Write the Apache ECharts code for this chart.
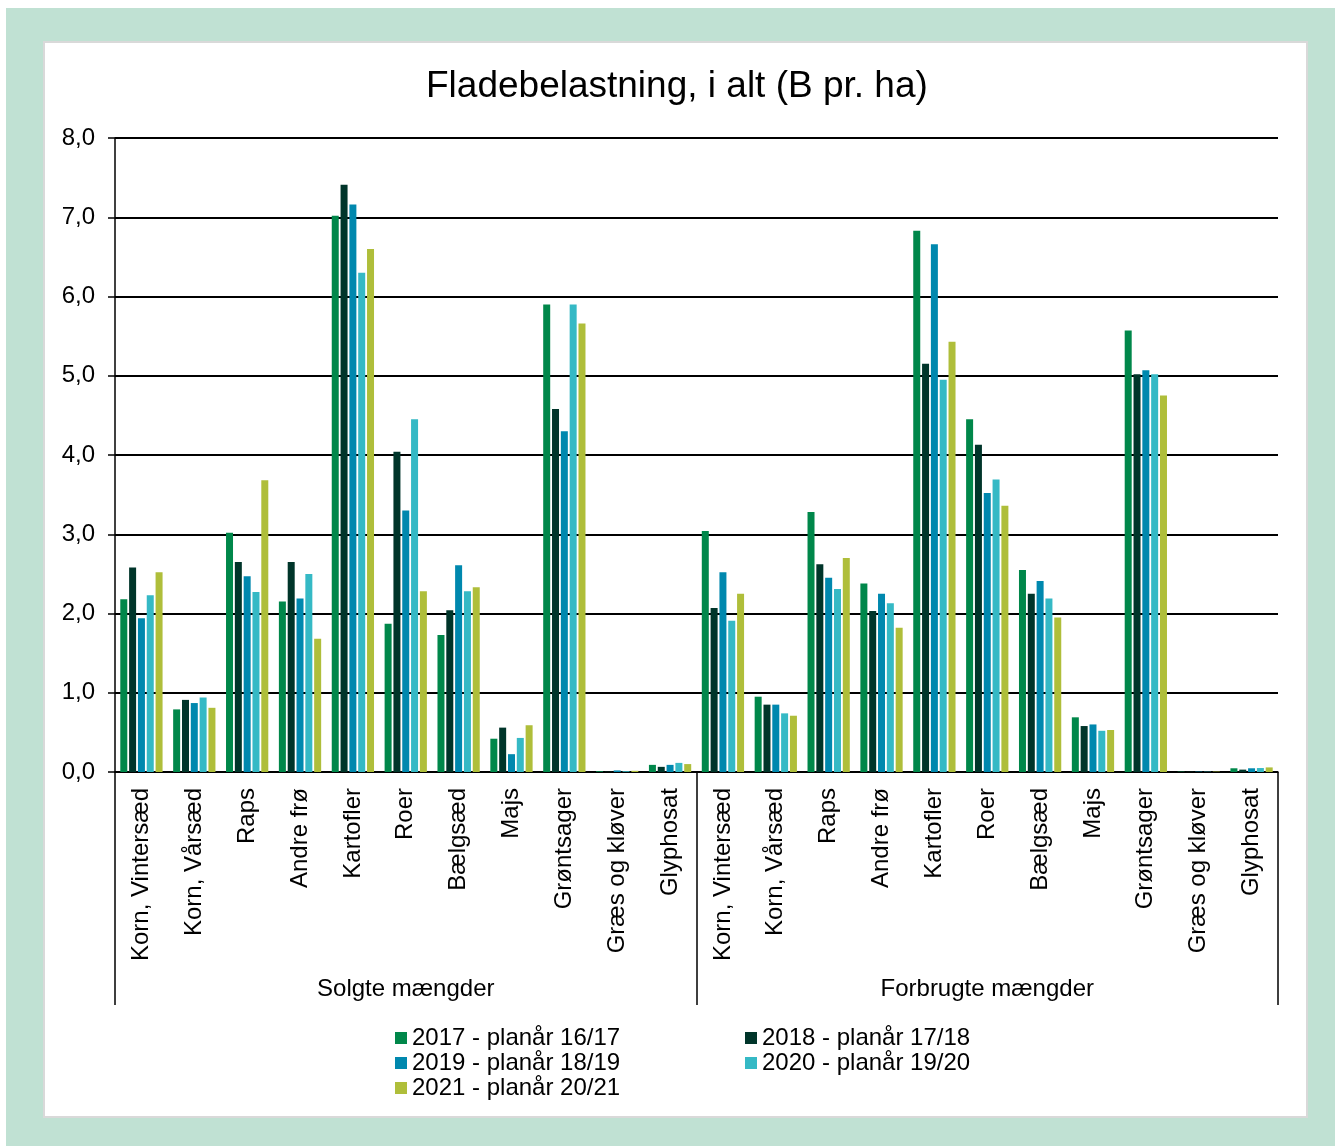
<!DOCTYPE html>
<html>
<head>
<meta charset="utf-8">
<script src="https://cdn.jsdelivr.net/npm/echarts@6/dist/echarts.min.js"></script>
<style>
  html, body { margin: 0; padding: 0; background: #ffffff; }
  #bg { position: absolute; left: 6px; top: 8px; width: 1329px; height: 1138px; background: #c0e1d3; }
  #panel { position: absolute; left: 43px; top: 41px; width: 1261px; height: 1073px; background: #ffffff; border: 2px solid #d9d9d9; }
  #chart { position: absolute; left: 0; top: 0; width: 1335px; height: 1146px; }
</style>
</head>
<body>
<div id="bg"></div>
<div id="panel"></div>
<div id="chart"></div>
<script>
const crops = ['Korn, Vintersæd', 'Korn, Vårsæd', 'Raps', 'Andre frø', 'Kartofler', 'Roer', 'Bælgsæd', 'Majs', 'Grøntsager', 'Græs og kløver', 'Glyphosat'];
const groups = ['Solgte mængder', 'Forbrugte mængder'];
const seriesNames = ['2017 - planår 16/17', '2018 - planår 17/18', '2019 - planår 18/19', '2020 - planår 19/20', '2021 - planår 20/21'];
const colors = ['#00874a', '#00352a', '#0088ae', '#35b9c5', '#afbe3a'];
const yTicks = [0, 1, 2, 3, 4, 5, 6, 7, 8];

// values: first 11 = Solgte mængder, last 11 = Forbrugte mængder
const v2017 = [2.18, 0.79, 3.02, 2.15, 7.02, 1.87, 1.73, 0.42, 5.90, 0.01, 0.09,
               3.04, 0.95, 3.28, 2.38, 6.83, 4.45, 2.55, 0.69, 5.57, 0.005, 0.047];
const v2018 = [2.58, 0.91, 2.65, 2.65, 7.41, 4.04, 2.04, 0.56, 4.58, 0.005, 0.065,
               2.07, 0.85, 2.62, 2.03, 5.15, 4.13, 2.25, 0.58, 5.02, 0.004, 0.03];
const v2019 = [1.94, 0.87, 2.47, 2.19, 7.16, 3.30, 2.61, 0.225, 4.30, 0.02, 0.09,
               2.52, 0.85, 2.45, 2.25, 6.66, 3.52, 2.41, 0.60, 5.07, 0.005, 0.047];
const v2020 = [2.23, 0.94, 2.27, 2.50, 6.30, 4.45, 2.28, 0.43, 5.90, 0.01, 0.115,
               1.91, 0.74, 2.31, 2.13, 4.95, 3.69, 2.19, 0.52, 5.02, 0.004, 0.05];
const v2021 = [2.52, 0.81, 3.68, 1.68, 6.60, 2.28, 2.33, 0.59, 5.66, 0.015, 0.10,
               2.25, 0.71, 2.70, 1.82, 5.43, 3.36, 1.95, 0.53, 4.75, 0.005, 0.058];
const allValues = [v2017, v2018, v2019, v2020, v2021];

const categories = crops.concat(crops);
const FONT = "'Liberation Sans', Arial, sans-serif";

const chart = echarts.init(document.getElementById('chart'), null, { renderer: 'canvas' });

const series = seriesNames.map((name, i) => ({
  name: name,
  type: 'bar',
  xAxisIndex: 0,
  data: allValues[i],
  barWidth: 7,
  barGap: '26%',
  itemStyle: { color: colors[i] },
  emphasis: { disabled: true }
}));

chart.setOption({
  animation: false,
  backgroundColor: 'transparent',
  textStyle: { fontFamily: FONT },
  title: {
    text: 'Fladebelastning, i alt (B pr. ha)',
    left: 421,
    top: 63,
    textStyle: { fontFamily: FONT, fontSize: 37, fontWeight: 'normal', color: '#000' }
  },
  legend: [
    {
      data: [seriesNames[0], seriesNames[2], seriesNames[4]],
      orient: 'vertical',
      left: 395,
      top: 1026,
      padding: 0,
      itemWidth: 12,
      itemHeight: 12,
      itemGap: 1,
      icon: 'rect',
      textStyle: { fontFamily: FONT, fontSize: 24, color: '#000' }
    },
    {
      data: [seriesNames[1], seriesNames[3]],
      orient: 'vertical',
      left: 745,
      top: 1026,
      padding: 0,
      itemWidth: 12,
      itemHeight: 12,
      itemGap: 1,
      icon: 'rect',
      textStyle: { fontFamily: FONT, fontSize: 24, color: '#000' }
    }
  ],
  grid: { left: 115, right: 57, top: 138, bottom: 374, containLabel: false },
  xAxis: [
    {
      type: 'category',
      data: categories,
      position: 'bottom',
      axisLine: { show: true, lineStyle: { color: '#000', width: 1.5 } },
      axisTick: { show: false },
      axisLabel: {
        interval: 0,
        rotate: 90,
        margin: 16,
        fontFamily: FONT,
        fontSize: 24,
        color: '#000'
      },
      splitLine: { show: false }
    },
    {
      type: 'category',
      data: groups,
      position: 'bottom',
      offset: 0,
      axisLine: { show: false },
      axisTick: { show: true, interval: 0, length: 233, lineStyle: { color: '#000', width: 1.5 } },
      axisLabel: {
        interval: 0,
        margin: 205,
        fontFamily: FONT,
        fontSize: 24,
        color: '#000'
      },
      splitLine: { show: false }
    }
  ],
  yAxis: {
    type: 'value',
    min: yTicks[0],
    max: yTicks[yTicks.length - 1],
    interval: 1,
    axisLine: { show: true, lineStyle: { color: '#000', width: 1.5 } },
    axisTick: { show: true, length: 7, lineStyle: { color: '#000', width: 1.5 } },
    axisLabel: {
      margin: 20,
      fontFamily: FONT,
      fontSize: 24,
      color: '#000',
      formatter: v => v.toFixed(1).replace('.', ',')
    },
    splitLine: { show: true, lineStyle: { color: '#000', width: 2 } }
  },
  series: series
});
</script>
</body>
</html>
